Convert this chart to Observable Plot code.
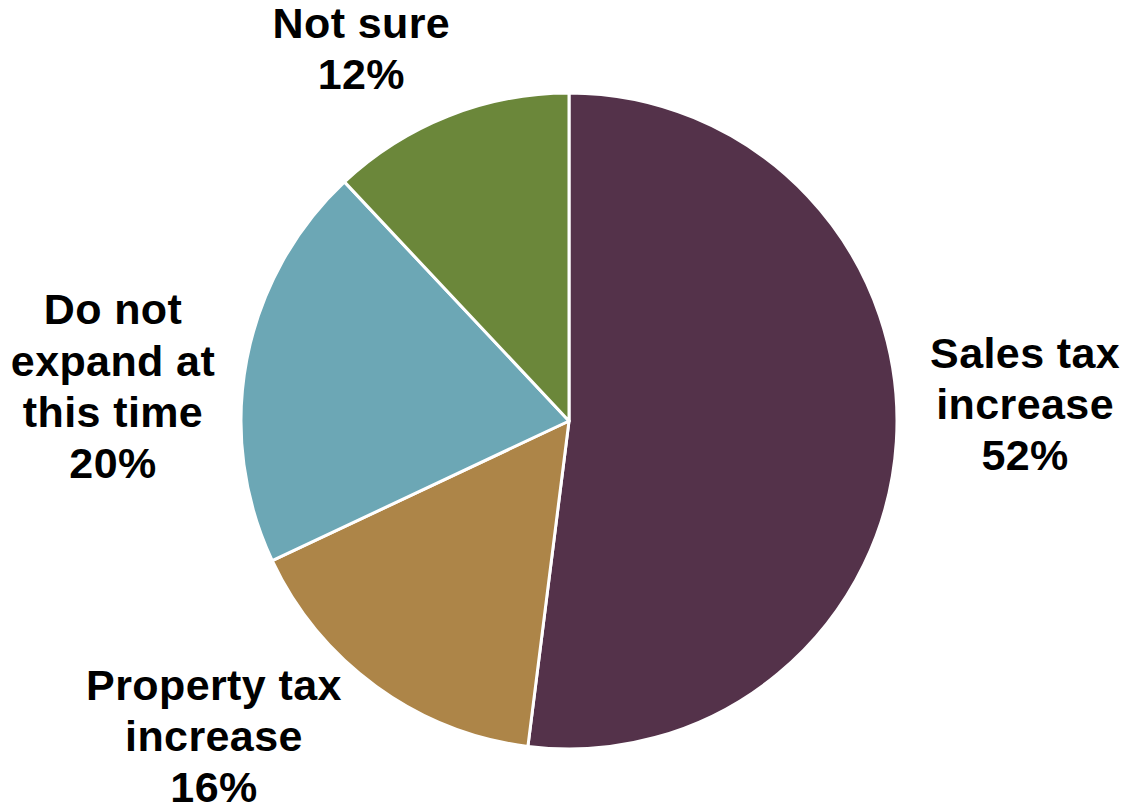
<!DOCTYPE html>
<html>
<head>
<meta charset="utf-8">
<script src="https://cdn.jsdelivr.net/npm/d3@7"></script>
<script src="https://cdn.jsdelivr.net/npm/@observablehq/plot@0.6"></script>
<style>
  html, body { margin: 0; padding: 0; background: #ffffff; }
  #chart { width: 1127px; height: 812px; }
  #chart text { letter-spacing: 0.4px; }
</style>
</head>
<body>
<div id="chart"></div>
<script>
// ---- data ----
const categories = ["Sales tax increase", "Property tax increase", "Do not expand at this time", "Not sure"];
const labelLines = ["Sales tax\nincrease", "Property tax\nincrease", "Do not\nexpand at\nthis time", "Not sure"];
const shares = [52, 16, 20, 12];
const colors = ["#54324a", "#ad8548", "#6ca7b5", "#6b873a"];

// ---- layout ----
const W = 1127, H = 812;
const center = [569, 421];
const R = 328;
// label placement in polar form around the pie centre: [angle deg clockwise from top, distance px]
const labelPolar = [[87.6, 456], [228.6, 474], [274.6, 458], [330.9, 428]];

const rows = categories.map((c, i) => ({
  category: c,
  share: shares[i],
  label: `${labelLines[i]}\n${shares[i]}%`
}));

const pieData = d3.pie().value(d => d.share).sort(null)(rows);
const color = Plot.scale({color: {type: "ordinal", domain: categories, range: colors}});
const arc = d3.arc().innerRadius(0).outerRadius(R);

const labelRows = rows.map((r, i) => {
  const a = labelPolar[i][0] * Math.PI / 180, d = labelPolar[i][1];
  return {...r, lx: center[0] + d * Math.sin(a), ly: center[1] - d * Math.cos(a)};
});

function slices(index, scales) {
  const g = d3.create("svg:g")
    .attr("transform", `translate(${scales.x(center[0])},${scales.y(center[1])})`);
  g.selectAll("path")
    .data(pieData)
    .join("path")
    .attr("d", arc)
    .attr("fill", d => color.apply(d.data.category))
    .attr("stroke", "#ffffff")
    .attr("stroke-width", 3)
    .attr("stroke-linejoin", "round");
  return g.node();
}

const chart = Plot.plot({
  width: W,
  height: H,
  margin: 0,
  style: {background: "#ffffff"},
  x: {domain: [0, W], range: [0, W], axis: null},
  y: {domain: [0, H], range: [0, H], axis: null},
  marks: [
    slices,
    Plot.text(labelRows, {
      x: "lx",
      y: "ly",
      text: "label",
      fill: "#000000",
      fontSize: 43,
      fontWeight: "bold",
      fontFamily: "Liberation Sans, Arial, sans-serif",
      lineHeight: 1.19,
      textAnchor: "middle",
      lineAnchor: "middle"
    })
  ]
});

document.getElementById("chart").append(chart);
</script>
</body>
</html>
